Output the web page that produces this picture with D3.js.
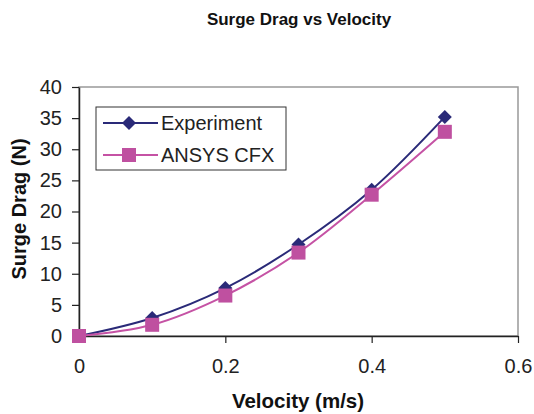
<!DOCTYPE html>
<html><head><meta charset="utf-8">
<script src="https://cdn.jsdelivr.net/npm/d3@7"></script>
<style>body{margin:0;background:#fff}text{font-family:Arial,"Liberation Sans",sans-serif}</style>
</head><body>
<svg id="c" width="534" height="414"></svg>
<script>
const velocity = [0, 0.1, 0.2, 0.3, 0.4, 0.5];
const experiment = [0, 2.9, 7.7, 14.7, 23.5, 35.2];
const ansysCfx = [0, 1.8, 6.5, 13.4, 22.7, 32.8];
const xTicks = [0, 0.2, 0.4, 0.6];
const yTicks = [0, 5, 10, 15, 20, 25, 30, 35, 40];
const seriesNames = ["Experiment", "ANSYS CFX"];

const svg = d3.select("#c");
const L = 79, R = 518, T = 87, B = 336;
const x = d3.scaleLinear().domain([0, 0.6]).range([L, R]);
const y = d3.scaleLinear().domain([0, 40]).range([B, T]);
const navy = "#2a2a78", pink = "#c552a4", pinkFill = "#bf50a0";

svg.append("rect").attr("x", L).attr("y", T).attr("width", R - L).attr("height", B - T)
  .attr("fill", "none").attr("stroke", "#999").attr("stroke-width", 1.5);

const yAxis = svg.append("g").attr("transform", `translate(${L},0)`)
  .call(d3.axisLeft(y).tickValues(yTicks).tickSize(7).tickPadding(10).tickSizeOuter(0).tickFormat(d3.format("d")));
const xAxis = svg.append("g").attr("transform", `translate(0,${B})`)
  .call(d3.axisBottom(x).tickValues(xTicks).tickSize(7).tickSizeOuter(0).tickFormat(d => d === 0 ? "0" : d3.format(".1f")(d)));
[yAxis, xAxis].forEach(g => {
  g.select(".domain").attr("stroke", "#222").attr("stroke-width", 1.5);
  g.selectAll(".tick line").attr("stroke", "#222").attr("stroke-width", 1.2);
  g.selectAll(".tick text").attr("font-size", 20).attr("fill", "#222")
    .attr("font-family", "Arial, 'Liberation Sans', sans-serif");
});
xAxis.selectAll(".tick text").attr("y", 37).attr("dy", 0);
xAxis.selectAll(".tick").filter(d => d === 0).select("line").remove();

const line = d3.line().x(d => x(d[0])).y(d => y(d[1])).curve(d3.curveCatmullRom.alpha(0.5));
const expPts = velocity.map((v, i) => [v, experiment[i]]);
const cfxPts = velocity.map((v, i) => [v, ansysCfx[i]]);

svg.append("path").datum(expPts).attr("d", line).attr("fill", "none").attr("stroke", navy).attr("stroke-width", 2);
svg.append("path").datum(cfxPts).attr("d", line).attr("fill", "none").attr("stroke", pink).attr("stroke-width", 2);

const diamond = (cx, cy, r) => `M${cx},${cy - r}L${cx + r},${cy}L${cx},${cy + r}L${cx - r},${cy}Z`;
svg.selectAll(".dm").data(expPts).enter().append("path")
  .attr("d", d => diamond(x(d[0]), y(d[1]), 7)).attr("fill", navy);
svg.selectAll(".sq").data(cfxPts).enter().append("rect")
  .attr("x", d => x(d[0]) - 7).attr("y", d => y(d[1]) - 7).attr("width", 14).attr("height", 14).attr("fill", pinkFill);

const lg = svg.append("g");
lg.append("rect").attr("x", 96).attr("y", 107).attr("width", 190).attr("height", 63)
  .attr("fill", "#fff").attr("stroke", "#333").attr("stroke-width", 1);
[[navy, 0], [pink, 1]].forEach(([col, i]) => {
  const cy = 123 + i * 32;
  lg.append("line").attr("x1", 103).attr("x2", 158).attr("y1", cy).attr("y2", cy).attr("stroke", col).attr("stroke-width", 2);
  if (i === 0) lg.append("path").attr("d", diamond(129, cy, 7)).attr("fill", navy);
  else lg.append("rect").attr("x", 122).attr("y", cy - 7).attr("width", 14).attr("height", 14).attr("fill", pinkFill);
  lg.append("text").attr("x", 161).attr("y", cy + 6.5).attr("font-size", 20).attr("fill", "#222").text(seriesNames[i]);
});

svg.append("text").attr("x", 299).attr("y", 24.5).attr("text-anchor", "middle").attr("font-size", 17)
  .attr("font-weight", "bold").attr("fill", "#111").text("Surge Drag vs Velocity");
svg.append("text").attr("x", 298).attr("y", 408).attr("text-anchor", "middle").attr("font-size", 20.5)
  .attr("font-weight", "bold").attr("fill", "#111").text("Velocity (m/s)");
svg.append("text").attr("transform", "translate(26,209) rotate(-90)").attr("text-anchor", "middle").attr("font-size", 20)
  .attr("font-weight", "bold").attr("fill", "#111").text("Surge Drag (N)");
</script>
</body></html>
